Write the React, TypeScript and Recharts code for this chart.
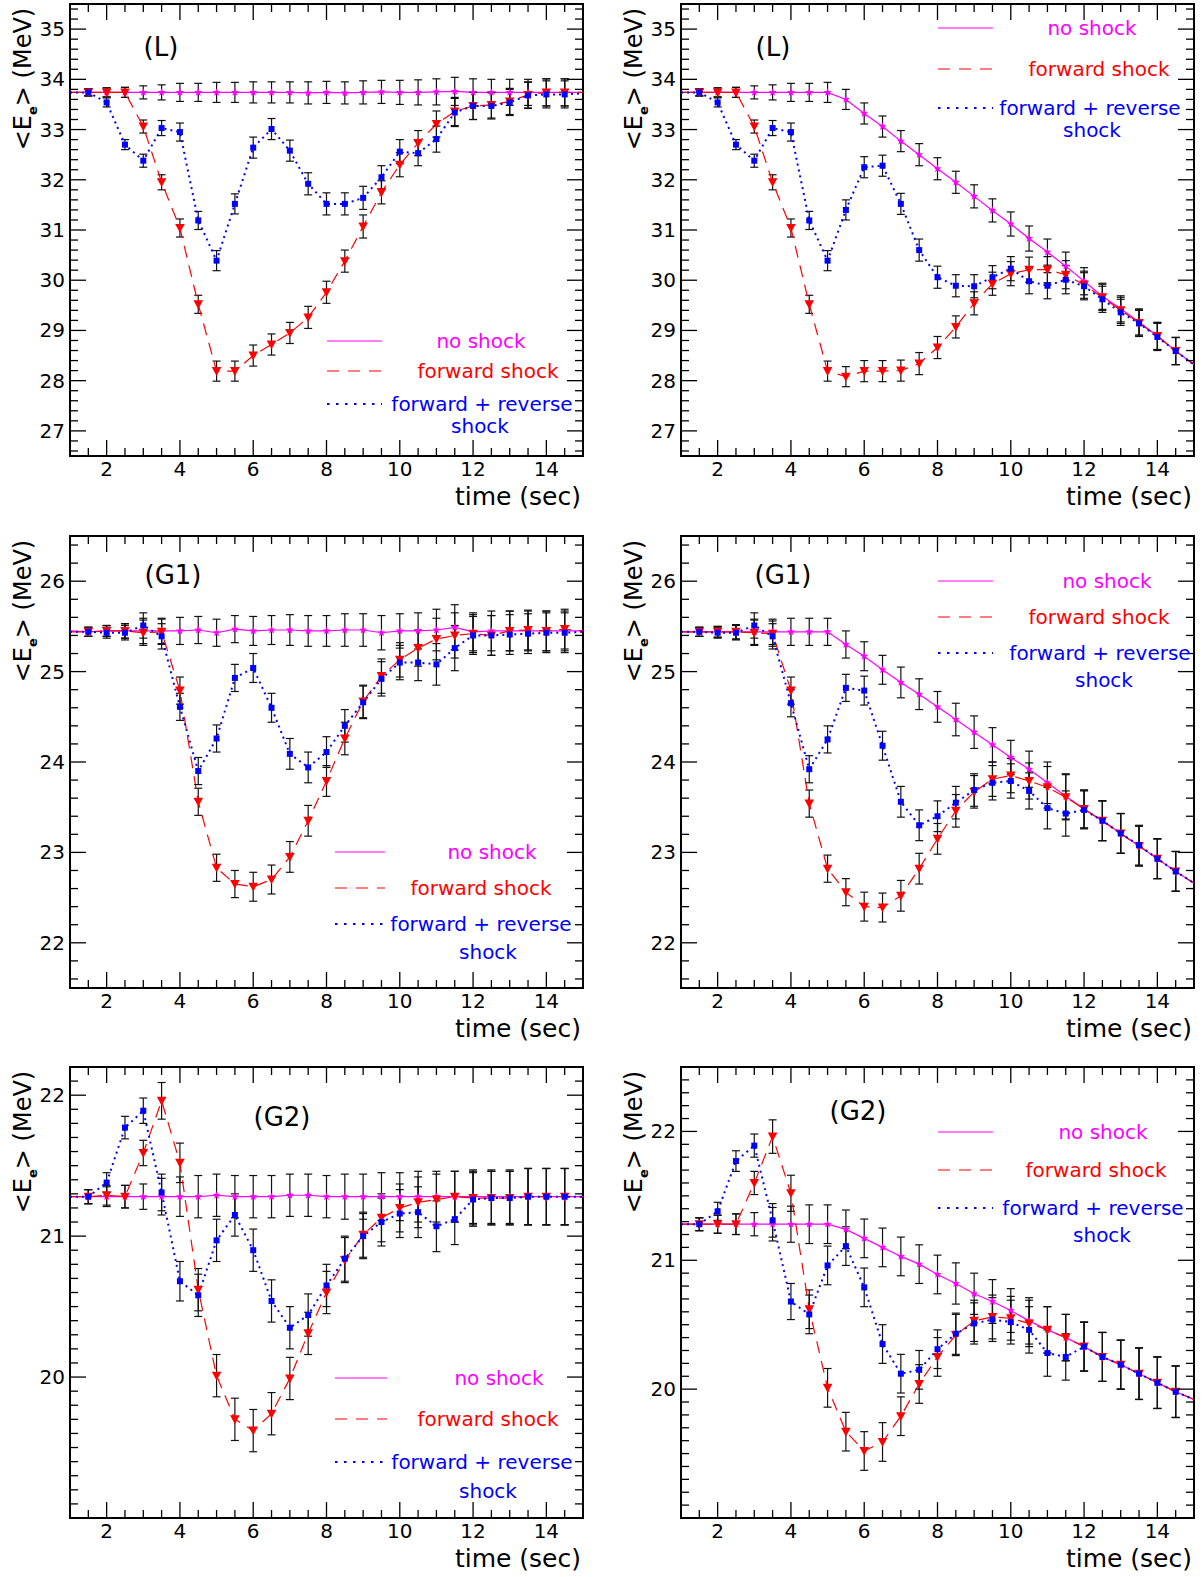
import React from 'react'
import { ComposedChart, Line, XAxis, YAxis, ErrorBar, ReferenceArea } from 'recharts'

const FONT = '"DejaVu Sans", Verdana, sans-serif'
const MAGENTA = '#ff00ff'
const RED = '#ff0000'
const BLUE = '#0000ff'

// time (sec), shared by every panel
const time = [1, 1.5, 2, 2.5, 3, 3.5, 4, 4.5, 5, 5.5, 6, 6.5, 7, 7.5, 8, 8.5, 9, 9.5, 10, 10.5, 11, 11.5, 12, 12.5, 13, 13.5, 14, 14.5, 15]
const xMajor = [2, 4, 6, 8, 10, 12, 14]
const xTicks = [1.5, 2, 2.5, 3, 3.5, 4, 4.5, 5, 5.5, 6, 6.5, 7, 7.5, 8, 8.5, 9, 9.5, 10, 10.5, 11, 11.5, 12, 12.5, 13, 13.5, 14, 14.5]

// errors for the points at t = 1.5 ... 14.5
const errL = [0.07, 0.09, 0.1, 0.13, 0.15, 0.18, 0.18, 0.2, 0.2, 0.21, 0.21, 0.21, 0.22, 0.22, 0.22, 0.23, 0.23, 0.24, 0.25, 0.26, 0.28, 0.27, 0.26, 0.26, 0.26, 0.27, 0.27]
const errG1 = [0.05, 0.06, 0.08, 0.14, 0.14, 0.15, 0.15, 0.15, 0.15, 0.16, 0.16, 0.17, 0.17, 0.17, 0.18, 0.18, 0.19, 0.19, 0.2, 0.23, 0.25, 0.21, 0.22, 0.22, 0.22, 0.22, 0.22]
const errG2 = [0.05, 0.07, 0.08, 0.09, 0.13, 0.14, 0.15, 0.15, 0.15, 0.15, 0.15, 0.15, 0.15, 0.15, 0.16, 0.16, 0.17, 0.17, 0.18, 0.18, 0.18, 0.19, 0.19, 0.19, 0.2, 0.2, 0.2]

// (L) left
const nsLa = [33.74, 33.74, 33.74, 33.74, 33.74, 33.74, 33.74, 33.74, 33.74, 33.74, 33.74, 33.74, 33.74, 33.73, 33.74, 33.73, 33.74, 33.75, 33.74, 33.74, 33.75, 33.76, 33.74, 33.74, 33.74, 33.74, 33.74, 33.74, 33.74]
const fsLa = [33.74, 33.74, 33.74, 33.74, 33.06, 31.95, 31.04, 29.52, 28.19, 28.19, 28.5, 28.72, 28.95, 29.26, 29.76, 30.38, 31.07, 31.75, 32.3, 32.73, 33.11, 33.36, 33.47, 33.49, 33.56, 33.69, 33.74, 33.74, 33.74]
const frLa = [33.74, 33.74, 33.54, 32.7, 32.38, 33.03, 32.95, 31.19, 30.39, 31.52, 32.64, 33.01, 32.58, 31.92, 31.52, 31.52, 31.64, 32.05, 32.56, 32.53, 32.81, 33.34, 33.47, 33.47, 33.54, 33.68, 33.7, 33.7, 33.72]

// (L) right
const nsLb = [33.74, 33.74, 33.74, 33.74, 33.74, 33.74, 33.74, 33.74, 33.74, 33.6, 33.32, 33.06, 32.77, 32.5, 32.22, 31.95, 31.67, 31.39, 31.12, 30.83, 30.56, 30.28, 29.98, 29.68, 29.43, 29.17, 28.89, 28.59, 28.32]
const fsLb = [33.74, 33.74, 33.74, 33.74, 33.06, 31.95, 31.04, 29.52, 28.19, 28.08, 28.19, 28.19, 28.2, 28.34, 28.66, 29.07, 29.54, 29.93, 30.13, 30.21, 30.21, 30.11, 29.91, 29.66, 29.4, 29.15, 28.89, 28.59, 28.32]
const frLb = [33.74, 33.74, 33.54, 32.7, 32.38, 33.03, 32.95, 31.19, 30.39, 31.4, 32.25, 32.28, 31.52, 30.6, 30.06, 29.89, 29.88, 30.06, 30.23, 29.98, 29.89, 30.01, 29.88, 29.62, 29.36, 29.14, 28.87, 28.59, 28.32]

// (G1) left
const nsG1a = [25.45, 25.44, 25.45, 25.45, 25.45, 25.45, 25.45, 25.46, 25.43, 25.47, 25.45, 25.46, 25.46, 25.45, 25.45, 25.46, 25.46, 25.43, 25.45, 25.45, 25.46, 25.49, 25.44, 25.45, 25.45, 25.45, 25.45, 25.45, 25.45]
const fsG1a = [25.44, 25.44, 25.45, 25.45, 25.43, 25.44, 24.79, 23.56, 22.83, 22.65, 22.62, 22.7, 22.95, 23.35, 23.79, 24.26, 24.67, 24.95, 25.13, 25.26, 25.36, 25.4, 25.42, 25.4, 25.45, 25.46, 25.45, 25.47, 25.45]
const frG1a = [25.44, 25.44, 25.43, 25.43, 25.51, 25.39, 24.61, 23.9, 24.26, 24.93, 25.04, 24.6, 24.09, 23.94, 24.11, 24.4, 24.66, 24.92, 25.1, 25.1, 25.08, 25.26, 25.4, 25.4, 25.41, 25.42, 25.43, 25.43, 25.44]

// (G1) right
const nsG1b = [25.44, 25.44, 25.44, 25.44, 25.44, 25.44, 25.44, 25.44, 25.44, 25.3, 25.17, 25.02, 24.88, 24.75, 24.61, 24.47, 24.33, 24.19, 24.05, 23.92, 23.77, 23.62, 23.48, 23.35, 23.21, 23.07, 22.93, 22.79, 22.66]
const fsG1b = [25.44, 25.44, 25.44, 25.44, 25.43, 25.42, 24.79, 23.54, 22.82, 22.56, 22.4, 22.39, 22.52, 22.82, 23.15, 23.46, 23.67, 23.81, 23.85, 23.79, 23.72, 23.61, 23.48, 23.35, 23.21, 23.07, 22.93, 22.79, 22.66]
const frG1b = [25.44, 25.44, 25.43, 25.43, 25.51, 25.39, 24.65, 23.92, 24.25, 24.82, 24.79, 24.18, 23.56, 23.3, 23.4, 23.55, 23.69, 23.77, 23.79, 23.68, 23.49, 23.43, 23.47, 23.35, 23.21, 23.08, 22.93, 22.79, 22.66]

// (G2) left
const nsG2a = [21.28, 21.28, 21.28, 21.28, 21.28, 21.28, 21.28, 21.28, 21.29, 21.28, 21.28, 21.28, 21.29, 21.29, 21.28, 21.28, 21.28, 21.28, 21.28, 21.28, 21.28, 21.28, 21.28, 21.28, 21.28, 21.28, 21.28, 21.28, 21.28]
const fsG2a = [21.28, 21.28, 21.29, 21.28, 21.59, 21.96, 21.52, 20.62, 20.01, 19.7, 19.62, 19.74, 19.99, 20.31, 20.6, 20.83, 21.01, 21.13, 21.2, 21.24, 21.26, 21.28, 21.27, 21.27, 21.27, 21.28, 21.28, 21.28, 21.28]
const frG2a = [21.28, 21.28, 21.38, 21.77, 21.89, 21.31, 20.68, 20.58, 20.97, 21.15, 20.9, 20.54, 20.35, 20.44, 20.65, 20.84, 21.0, 21.1, 21.16, 21.17, 21.07, 21.12, 21.26, 21.27, 21.27, 21.28, 21.28, 21.28, 21.28]

// (G2) right
const nsG2b = [21.28, 21.28, 21.28, 21.28, 21.28, 21.28, 21.28, 21.28, 21.28, 21.24, 21.17, 21.1, 21.03, 20.97, 20.89, 20.82, 20.74, 20.68, 20.61, 20.53, 20.46, 20.4, 20.33, 20.25, 20.19, 20.12, 20.05, 19.98, 19.92]
const fsG2b = [21.28, 21.28, 21.28, 21.28, 21.6, 21.96, 21.52, 20.62, 20.01, 19.67, 19.52, 19.59, 19.79, 20.04, 20.25, 20.42, 20.53, 20.56, 20.55, 20.51, 20.46, 20.4, 20.33, 20.25, 20.19, 20.12, 20.05, 19.98, 19.92]
const frG2b = [21.28, 21.28, 21.38, 21.77, 21.89, 21.31, 20.68, 20.58, 20.96, 21.11, 20.79, 20.35, 20.12, 20.15, 20.31, 20.43, 20.51, 20.54, 20.52, 20.46, 20.28, 20.25, 20.33, 20.25, 20.19, 20.12, 20.05, 19.98, 19.92]

const legendTexts = ['no shock', 'forward shock', 'forward + reverse', 'shock']

// multiples of step strictly inside (lo, hi)
function innerTicks(lo: number, hi: number, step: number) {
  const out: number[] = []
  const k0 = Math.ceil(lo / step - 1e-6)
  const k1 = Math.floor(hi / step + 1e-6)
  for (let k = k0; k <= k1; k++) {
    const v = Math.round(k * step * 1000) / 1000
    if (v > lo + 1e-6 && v < hi - 1e-6) out.push(v)
  }
  return out
}

const isEnd = (i: number) => i === 0 || i === time.length - 1

const starDot = (p: any) => {
  const { cx, cy, index } = p
  if (isEnd(index) || cx == null || cy == null) return <g key={`s${index}`} />
  const pts: string[] = []
  for (let k = 0; k < 10; k++) {
    const r = k % 2 === 0 ? 4.2 : 1.8
    const a = -Math.PI / 2 + (k * Math.PI) / 5
    pts.push(`${cx + r * Math.cos(a)},${cy + r * Math.sin(a)}`)
  }
  return <polygon key={`s${index}`} points={pts.join(' ')} fill={MAGENTA} />
}

const triDot = (p: any) => {
  const { cx, cy, index } = p
  if (isEnd(index) || cx == null || cy == null) return <g key={`t${index}`} />
  return (
    <polygon
      key={`t${index}`}
      points={`${cx - 4.8},${cy - 4} ${cx + 4.8},${cy - 4} ${cx},${cy + 4.8}`}
      fill={RED}
    />
  )
}

const squareDot = (p: any) => {
  const { cx, cy, index } = p
  if (isEnd(index) || cx == null || cy == null) return <g key={`q${index}`} />
  return <rect key={`q${index}`} x={cx - 3} y={cy - 3} width={6} height={6} fill={BLUE} />
}

type PanelDef = {
  left: number
  top: number
  w: number
  h: number
  yMin: number
  yMax: number
  yStep: number
  ns: number[]
  fs: number[]
  fr: number[]
  err: number[]
  label: string
  labelX: number
  labelY: number
  lineX: [number, number]
  legendX: number[]
  legendY: number[]
}

const panels: PanelDef[] = [
  { left: 70, top: 4, w: 513, h: 452, yMin: 26.5, yMax: 35.5, yStep: 0.2, ns: nsLa, fs: fsLa, fr: frLa, err: errL,
    label: '(L)', labelX: 161, labelY: 47, lineX: [327, 382], legendX: [481, 488, 482, 480], legendY: [341, 371, 404, 426] },
  { left: 681, top: 4, w: 513, h: 452, yMin: 26.5, yMax: 35.5, yStep: 0.2, ns: nsLb, fs: fsLb, fr: frLb, err: errL,
    label: '(L)', labelX: 773, labelY: 47, lineX: [938, 993], legendX: [1092, 1099, 1090, 1092], legendY: [28, 69, 108, 130] },
  { left: 70, top: 536, w: 513, h: 452, yMin: 21.5, yMax: 26.5, yStep: 0.2, ns: nsG1a, fs: fsG1a, fr: frG1a, err: errG1,
    label: '(G1)', labelX: 173, labelY: 575, lineX: [335, 385], legendX: [492, 481, 481, 488], legendY: [852, 888, 924, 952] },
  { left: 681, top: 536, w: 513, h: 452, yMin: 21.5, yMax: 26.5, yStep: 0.2, ns: nsG1b, fs: fsG1b, fr: frG1b, err: errG1,
    label: '(G1)', labelX: 783, labelY: 575, lineX: [938, 993], legendX: [1107, 1099, 1100, 1104], legendY: [581, 617, 653, 680] },
  { left: 70, top: 1067, w: 513, h: 451, yMin: 19, yMax: 22.2, yStep: 0.1, ns: nsG2a, fs: fsG2a, fr: frG2a, err: errG2,
    label: '(G2)', labelX: 282, labelY: 1117, lineX: [335, 387], legendX: [499, 488, 482, 488], legendY: [1378, 1419, 1462, 1491] },
  { left: 681, top: 1067, w: 513, h: 451, yMin: 19, yMax: 22.5, yStep: 0.1, ns: nsG2b, fs: fsG2b, fr: frG2b, err: errG2,
    label: '(G2)', labelX: 858, labelY: 1111, lineX: [938, 993], legendX: [1103, 1096, 1093, 1102], legendY: [1132, 1170, 1208, 1235] },
]

const Y_AXIS_W = 70
const X_AXIS_H = 50
const PAD_T = 10
const PAD_R = 10

function Panel({ p }: { p: PanelDef }) {
  const data = time.map((t, i) => ({
    t,
    ns: p.ns[i],
    fs: p.fs[i],
    fr: p.fr[i],
    e: isEnd(i) ? null : p.err[i - 1],
  }))
  const yTicks = innerTicks(p.yMin, p.yMax, p.yStep)

  const xTick = (props: any) => {
    const { x, y, payload } = props
    const v = payload.value
    const major = xMajor.includes(v)
    const len = major ? 16 : 8
    return (
      <g>
        <line x1={x} y1={y} x2={x} y2={y - len} stroke="#000" strokeWidth={1.3} />
        <line x1={x} y1={y - p.h} x2={x} y2={y - p.h + len} stroke="#000" strokeWidth={1.3} />
        {major && (
          <text x={x} y={y + 13} textAnchor="middle" dominantBaseline="central" fontSize={20} fontFamily={FONT} fill="#000">
            {v}
          </text>
        )}
      </g>
    )
  }

  const yTick = (props: any) => {
    const { x, y, payload } = props
    const v = payload.value
    const major = Math.abs(v - Math.round(v)) < 1e-6
    const len = major ? 16 : 8
    return (
      <g>
        <line x1={x} y1={y} x2={x + len} y2={y} stroke="#000" strokeWidth={1.3} />
        <line x1={x + p.w} y1={y} x2={x + p.w - len} y2={y} stroke="#000" strokeWidth={1.3} />
        {major && (
          <text x={x - 5} y={y} textAnchor="end" dominantBaseline="central" fontSize={20} fontFamily={FONT} fill="#000">
            {Math.round(v)}
          </text>
        )}
      </g>
    )
  }

  return (
    <div style={{ position: 'absolute', left: p.left - Y_AXIS_W, top: p.top - PAD_T }}>
      <ComposedChart
        width={Y_AXIS_W + p.w + PAD_R}
        height={PAD_T + p.h + X_AXIS_H}
        data={data}
        margin={{ top: PAD_T, right: PAD_R, bottom: 0, left: 0 }}
      >
        <XAxis
          dataKey="t"
          type="number"
          domain={[1, 15]}
          ticks={xTicks}
          interval={0}
          allowDataOverflow
          axisLine={false}
          tickLine={false}
          tickSize={0}
          tickMargin={0}
          height={X_AXIS_H}
          tick={xTick}
        />
        <YAxis
          type="number"
          domain={[p.yMin, p.yMax]}
          ticks={yTicks}
          interval={0}
          allowDataOverflow
          axisLine={false}
          tickLine={false}
          tickSize={0}
          tickMargin={0}
          width={Y_AXIS_W}
          tick={yTick}
        />
        <ReferenceArea x1={1} x2={15} y1={p.yMin} y2={p.yMax} fill="none" fillOpacity={0} stroke="#000" strokeWidth={2} ifOverflow="visible" />
        <Line dataKey="ns" type="linear" stroke={MAGENTA} strokeWidth={1.2} dot={starDot} activeDot={false} isAnimationActive={false}>
          <ErrorBar dataKey="e" width={4} stroke="#111" strokeWidth={1.2} direction="y" isAnimationActive={false} />
        </Line>
        <Line dataKey="fs" type="linear" stroke={RED} strokeWidth={1.2} strokeDasharray="12 8" dot={triDot} activeDot={false} isAnimationActive={false}>
          <ErrorBar dataKey="e" width={4} stroke="#111" strokeWidth={1.2} direction="y" isAnimationActive={false} />
        </Line>
        <Line dataKey="fr" type="linear" stroke={BLUE} strokeWidth={2} strokeDasharray="2 4" dot={squareDot} activeDot={false} isAnimationActive={false}>
          <ErrorBar dataKey="e" width={4} stroke="#111" strokeWidth={1.2} direction="y" isAnimationActive={false} />
        </Line>
      </ComposedChart>
    </div>
  )
}

function Txt({ x, y, size, color = '#000', align = 'center', children }: any) {
  const tx = align === 'center' ? '-50%' : align === 'right' ? '-100%' : '0'
  return (
    <div
      style={{
        position: 'absolute',
        left: x,
        top: y,
        transform: `translate(${tx}, -50%)`,
        fontFamily: FONT,
        fontSize: size,
        color,
        whiteSpace: 'nowrap',
        lineHeight: 1,
      }}
    >
      {children}
    </div>
  )
}

function Overlay({ p }: { p: PanelDef }) {
  const colors = [MAGENTA, RED, BLUE, BLUE]
  const [lx1, lx2] = p.lineX
  const yTitleX = p.left - 45
  return (
    <>
      <Txt x={p.labelX} y={p.labelY} size={26}>{p.label}</Txt>
      <Txt x={p.left + p.w - 2} y={p.top + p.h + 40} size={25} align="right">time (sec)</Txt>
      <div
        style={{
          position: 'absolute',
          left: yTitleX,
          top: p.top + 75,
          transform: 'translate(-50%, -50%) rotate(-90deg)',
          fontFamily: FONT,
          fontSize: 24,
          whiteSpace: 'nowrap',
          lineHeight: 1,
          color: '#000',
        }}
      >
        {'<E'}
        <sub style={{ fontSize: 13, fontWeight: 'bold' }}>e</sub>
        {'>  (MeV)'}
      </div>
      <svg style={{ position: 'absolute', left: 0, top: 0, overflow: 'visible' }} width={1} height={1}>
        <line x1={lx1} x2={lx2} y1={p.legendY[0]} y2={p.legendY[0]} stroke={MAGENTA} strokeWidth={1.2} />
        <line x1={lx1} x2={lx2} y1={p.legendY[1]} y2={p.legendY[1]} stroke={RED} strokeWidth={1.2} strokeDasharray="12 9" />
        <line x1={lx1} x2={lx2} y1={p.legendY[2]} y2={p.legendY[2]} stroke={BLUE} strokeWidth={2.2} strokeDasharray="2.5 6.5" />
      </svg>
      {legendTexts.map((t, i) => (
        <Txt key={t} x={p.legendX[i]} y={p.legendY[i]} size={20} color={colors[i]}>
          {t}
        </Txt>
      ))}
    </>
  )
}

export default function App() {
  return (
    <div style={{ position: 'absolute', left: 0, top: 0, width: 1204, height: 1577, background: '#fff', overflow: 'hidden' }}>
      {panels.map((p, i) => (
        <Panel key={i} p={p} />
      ))}
      {panels.map((p, i) => (
        <Overlay key={`o${i}`} p={p} />
      ))}
    </div>
  )
}
